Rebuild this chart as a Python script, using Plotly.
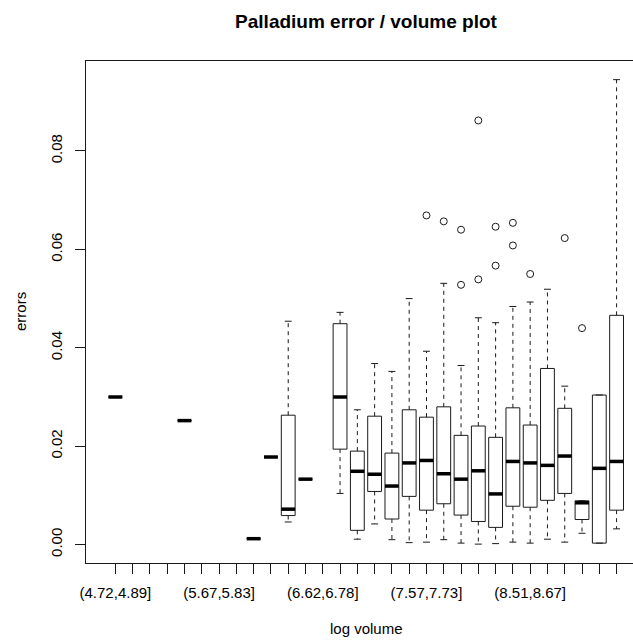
import plotly.graph_objects as go

# Log-volume bins (cut into 30 intervals)
bin_labels = [
    "(4.72,4.89]", "(4.89,5.04]", "(5.04,5.2]", "(5.2,5.36]", "(5.36,5.52]",
    "(5.52,5.67]", "(5.67,5.83]", "(5.83,5.99]", "(5.99,6.15]", "(6.15,6.31]",
    "(6.31,6.46]", "(6.46,6.62]", "(6.62,6.78]", "(6.78,6.94]", "(6.94,7.09]",
    "(7.09,7.25]", "(7.25,7.41]", "(7.41,7.57]", "(7.57,7.73]", "(7.73,7.88]",
    "(7.88,8.04]", "(8.04,8.2]", "(8.2,8.36]", "(8.36,8.51]", "(8.51,8.67]",
    "(8.67,8.83]", "(8.83,8.99]", "(8.99,9.15]", "(9.15,9.3]", "(9.3,9.47]",
]

# Five-number summaries of the errors per bin (None = empty bin)
lower_whisker = [0.0300, None, None, None, 0.0252, None, None, None, 0.0012, 0.0178,
                 0.0046, 0.0133, None, 0.0104, 0.0011, 0.0042, 0.0010, 0.0004, 0.0005, 0.0010,
                 0.0003, 0.0001, 0.0002, 0.0005, 0.0003, 0.0011, 0.0005, 0.0023, 0.0003, 0.0032]
q1 = [0.0300, None, None, None, 0.0252, None, None, None, 0.0012, 0.0178,
      0.0059, 0.0133, None, 0.0194, 0.0029, 0.0108, 0.0052, 0.0098, 0.0070, 0.0083,
      0.0060, 0.0047, 0.0035, 0.0078, 0.0076, 0.0090, 0.0104, 0.0051, 0.0003, 0.0070]
median = [0.0300, None, None, None, 0.0252, None, None, None, 0.0012, 0.0178,
          0.0072, 0.0133, None, 0.0300, 0.0149, 0.0143, 0.0119, 0.0166, 0.0171, 0.0144,
          0.0133, 0.0150, 0.0103, 0.0169, 0.0166, 0.0161, 0.0180, 0.0085, 0.0155, 0.0169]
q3 = [0.0300, None, None, None, 0.0252, None, None, None, 0.0012, 0.0178,
      0.0263, 0.0133, None, 0.0449, 0.0190, 0.0261, 0.0186, 0.0274, 0.0259, 0.0280,
      0.0222, 0.0241, 0.0218, 0.0278, 0.0243, 0.0358, 0.0277, 0.0089, 0.0304, 0.0466]
upper_whisker = [0.0300, None, None, None, 0.0252, None, None, None, 0.0012, 0.0178,
                 0.0454, 0.0133, None, 0.0472, 0.0274, 0.0368, 0.0352, 0.0500, 0.0393, 0.0531,
                 0.0364, 0.0461, 0.0451, 0.0484, 0.0493, 0.0519, 0.0322, 0.0089, 0.0304, 0.0945]

# Outlying points (bin number, error)
outlier_bins = [19, 20, 21, 21, 22, 22, 23, 23, 24, 24, 25, 27, 28]
outlier_values = [0.0669, 0.0657, 0.0640, 0.0528, 0.0862, 0.0539, 0.0646, 0.0567,
                  0.0654, 0.0608, 0.0550, 0.0623, 0.0440]

y_ticks = [0.00, 0.02, 0.04, 0.06, 0.08]
label_every = 6

BOX_HALF = 0.4
STAPLE_HALF = 0.2
INK = "#1a1a1a"

box_x, box_y = [], []
wh_x, wh_y = [], []
st_x, st_y = [], []
md_x, md_y = [], []
for i in range(len(bin_labels)):
    if median[i] is None:
        continue
    c = i + 1
    l, r = c - BOX_HALF, c + BOX_HALF
    box_x += [l, r, r, l, l, None]
    box_y += [q1[i], q1[i], q3[i], q3[i], q1[i], None]
    md_x += [l, r, None]
    md_y += [median[i], median[i], None]
    wh_x += [c, c, None, c, c, None]
    wh_y += [q3[i], upper_whisker[i], None, q1[i], lower_whisker[i], None]
    st_x += [c - STAPLE_HALF, c + STAPLE_HALF, None, c - STAPLE_HALF, c + STAPLE_HALF, None]
    st_y += [upper_whisker[i], upper_whisker[i], None, lower_whisker[i], lower_whisker[i], None]

fig = go.Figure()
fig.add_trace(go.Scatter(x=wh_x, y=wh_y, mode="lines",
                         line=dict(color=INK, width=1, dash="4px,4px"), hoverinfo="skip"))
fig.add_trace(go.Scatter(x=st_x, y=st_y, mode="lines",
                         line=dict(color=INK, width=1), hoverinfo="skip"))
fig.add_trace(go.Scatter(x=box_x, y=box_y, mode="lines",
                         line=dict(color=INK, width=1), hoverinfo="skip"))
fig.add_trace(go.Scatter(x=md_x, y=md_y, mode="lines",
                         line=dict(color="black", width=3.5), hoverinfo="skip"))
fig.add_trace(go.Scatter(x=outlier_bins, y=outlier_values, mode="markers",
                         marker=dict(symbol="circle-open", size=7, color=INK,
                                     line=dict(width=1, color=INK))))

tick_text = [lab if (k % label_every == 0) else "" for k, lab in enumerate(bin_labels)]

axis_font = dict(family="Liberation Sans, Arial, sans-serif", size=15, color="black")

fig.update_layout(
    width=633, height=641,
    margin=dict(l=86, r=0, t=61, b=78),
    paper_bgcolor="white", plot_bgcolor="white",
    showlegend=False,
    title=dict(text="<b>Palladium error / volume plot</b>",
               font=dict(family="Liberation Sans, Arial, sans-serif", size=19, color="black"),
               x=366 / 633, xanchor="center", xref="container",
               y=1 - 21 / 641, yanchor="middle", yref="container"),
    xaxis=dict(range=[-0.7, 30.95], tickmode="array",
               tickvals=list(range(1, len(bin_labels) + 1)), ticktext=tick_text,
               ticks="outside", ticklen=10, tickcolor=INK, tickwidth=1,
               ticklabelstandoff=6,
               showline=True, mirror=True, linecolor=INK, linewidth=1,
               showgrid=False, zeroline=False, tickfont=axis_font, tickangle=0),
    yaxis=dict(range=[-0.00374, 0.09829], tickmode="array", tickvals=y_ticks,
               ticktext=[f"{v:.2f}" for v in y_ticks],
               ticks="outside", ticklen=10, tickcolor=INK, tickwidth=1,
               ticklabelstandoff=7,
               showline=True, mirror=False, linecolor=INK, linewidth=1,
               showgrid=False, zeroline=False, tickfont=axis_font, tickangle=-90),
    annotations=[
        dict(text="log volume", xref="paper", yref="paper",
             x=(366 - 86) / 547, y=(563 - 629) / 502, xanchor="center", yanchor="middle",
             showarrow=False, font=axis_font),
        dict(text="errors", xref="paper", yref="paper",
             x=(20 - 86) / 547, y=0.5, xanchor="center", yanchor="middle",
             textangle=-90, showarrow=False, font=axis_font),
    ],
)

fig.write_html("out.html")
